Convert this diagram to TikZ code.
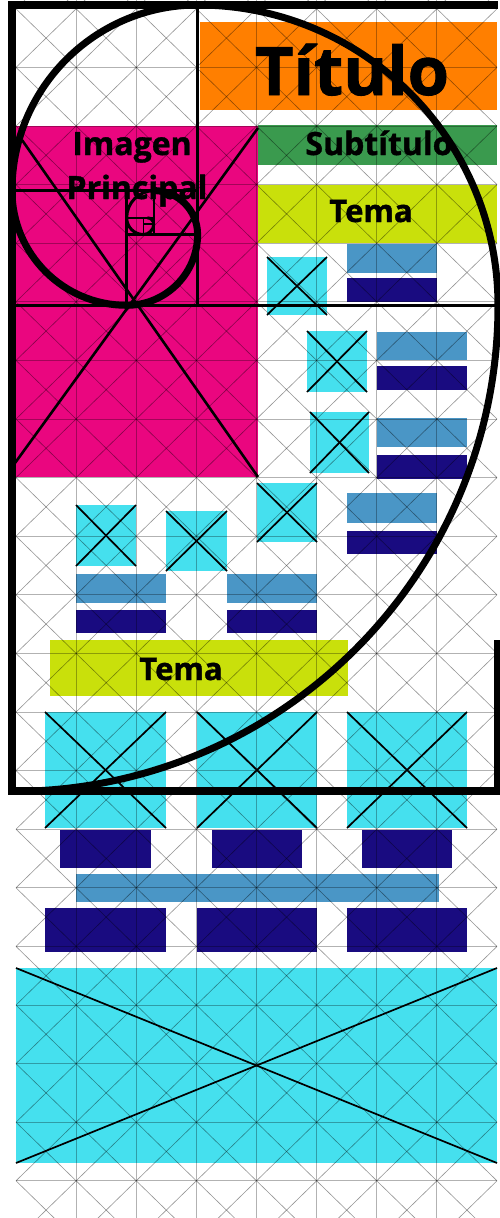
\documentclass[tikz,border=0pt]{standalone}
\usepackage{fontspec}
\setmainfont{Open Sans}[BoldFeatures={FakeBold=1.2}]
\definecolor{pinkc}{HTML}{EA067F}
\definecolor{orangec}{HTML}{FF7F00}
\definecolor{greenc}{HTML}{3A9A4E}
\definecolor{limec}{HTML}{C9E00B}
\definecolor{cyanc}{HTML}{45E0EE}
\definecolor{bluec}{HTML}{4A96C6}
\definecolor{navyc}{HTML}{190B80}
\begin{document}
\begin{tikzpicture}[x=1pt,y=-1pt,
  diag/.style={draw=black,draw opacity=0.42,line width=0.6pt},
  orth/.style={draw=black,draw opacity=0.3,line width=1pt},
  cross/.style={draw=black,line width=1.7pt},
  gold/.style={draw=black,line width=8pt,line join=miter},
  goldin/.style={draw=black,line width=3pt},
  spiral/.style={draw=black,line width=7pt},
  lbl/.style={text=black,inner sep=0pt,anchor=base}
]
\clip (0,0) rectangle (500,1218);
\fill[white] (0,0) rectangle (500,1218);
% coloured blocks
\fill[orangec] (200,22) rectangle (497,110);
\fill[greenc] (258,125) rectangle (497,165);
\fill[limec] (258,185) rectangle (497,243);
\fill[pinkc] (16,126) rectangle (258,477);
\fill[limec] (50,640) rectangle (348,696);
\foreach \a/\b/\c/\d in {347/244/437/273, 377/332/467/360, 377/418/467/447, 347/493/437/523,
  76/574/166/603, 227/574/317/603, 76/874/439/902}
  {\fill[bluec] (\a,\b) rectangle (\c,\d);}
\foreach \a/\b/\c/\d in {347/278/437/302, 377/366/467/390, 377/455/467/479, 347/531/437/554,
  76/610/166/633, 227/610/317/633, 60/830/151/868, 212/830/302/868, 362/830/452/868,
  45/908/166/952, 197/908/317/952, 347/908/467/952}
  {\fill[navyc] (\a,\b) rectangle (\c,\d);}
\def\crossboxes{267/257/327/315, 307/331/367/392, 310/412/369/473, 257/483/317/542,
  76/505/136/566, 166/511/227/571, 45/712/166/828, 197/712/317/828, 347/712/467/828,
  16/968/497/1163}
\foreach \a/\b/\c/\d in \crossboxes {\fill[cyanc] (\a,\b) rectangle (\c,\d);}
% grid
\foreach \i in {0,...,7} {
  \foreach \j in {-1,...,21} {
    \pgfmathsetmacro\xa{16+60.125*\i}
    \pgfmathsetmacro\xb{16+60.125*(\i+1)}
    \pgfmathsetmacro\ya{8.8+58.6*\j}
    \pgfmathsetmacro\yb{8.8+58.6*(\j+1)}
    \draw[diag] (\xa,\ya) -- (\xb,\yb);
    \draw[diag] (\xa,\yb) -- (\xb,\ya);
  }
}
\foreach \j in {0,...,20} {
  \pgfmathsetmacro\ya{8.8+58.6*\j}
  \draw[orth] (16,\ya) -- (497,\ya);
}
\foreach \i in {1,...,7} {
  \pgfmathsetmacro\xa{16+60.125*\i}
  \draw[orth] (\xa,0) -- (\xa,1218);
}
% crosses
\foreach \a/\b/\c/\d in \crossboxes {\draw[cross] (\a,\b) -- (\c,\d); \draw[cross] (\a,\d) -- (\c,\b);}
\draw[line width=2.6pt] (22,140) -- (258,477);
\draw[line width=2.6pt] (258,128) -- (15,463);
% golden rectangle
\draw[gold] (498,640) -- (498,791.4) -- (12,791.4) -- (12,5) -- (498,5);
\draw[goldin] (12,305.4) -- (498,305.4);
\draw[goldin] (197.6,5) -- (197.6,305.4);
\draw[goldin] (12,190.6) -- (197.6,190.6);
\draw[goldin] (126.7,190.6) -- (126.7,305.4);
\draw[goldin] (126.7,234.5) -- (197.6,234.5);
\draw[line width=2pt] (153.8,190.6) -- (153.8,234.5);
\draw[line width=2pt] (126.7,217.7) -- (153.8,217.7);
\draw[line width=1.5pt] (143.4,217.7) -- (143.4,234.5);
\draw[line width=1.5pt] (143.4,224.1) -- (153.8,224.1);
\draw[spiral] (12,791.4) arc[start angle=90,end angle=0,radius=486]
  arc[start angle=0,end angle=-90,radius=300.4]
  arc[start angle=-90,end angle=-180,radius=185.6]
  arc[start angle=180,end angle=90,radius=114.7]
  arc[start angle=90,end angle=0,radius=70.9]
  arc[start angle=0,end angle=-90,radius=43.8];
\draw[line width=3pt] (153.8,190.7) arc[start angle=-90,end angle=-180,radius=27.1]
  arc[start angle=180,end angle=90,radius=16.7]
  arc[start angle=90,end angle=0,radius=10.3]
  arc[start angle=0,end angle=-90,radius=6.4];
% texts
\node[lbl,font=\bfseries\fontsize{67}{67}\selectfont] (titulo) at (352,95) {Título};
\node[lbl,font=\bfseries\fontsize{32}{32}\selectfont] (subtitulo) at (379,155) {Subtítulo};
\node[lbl,font=\bfseries\fontsize{31}{31}\selectfont] (tema1) at (371,222) {Tema};
\node[lbl,font=\bfseries\fontsize{31}{31}\selectfont] (tema2) at (181,680) {Tema};
\node[lbl,font=\bfseries\fontsize{32}{32}\selectfont] (imagen) at (132,155) {Imagen};
\node[lbl,font=\bfseries\fontsize{32}{32}\selectfont] (principal) at (137,199) {Principal};
\end{tikzpicture}
\end{document}
